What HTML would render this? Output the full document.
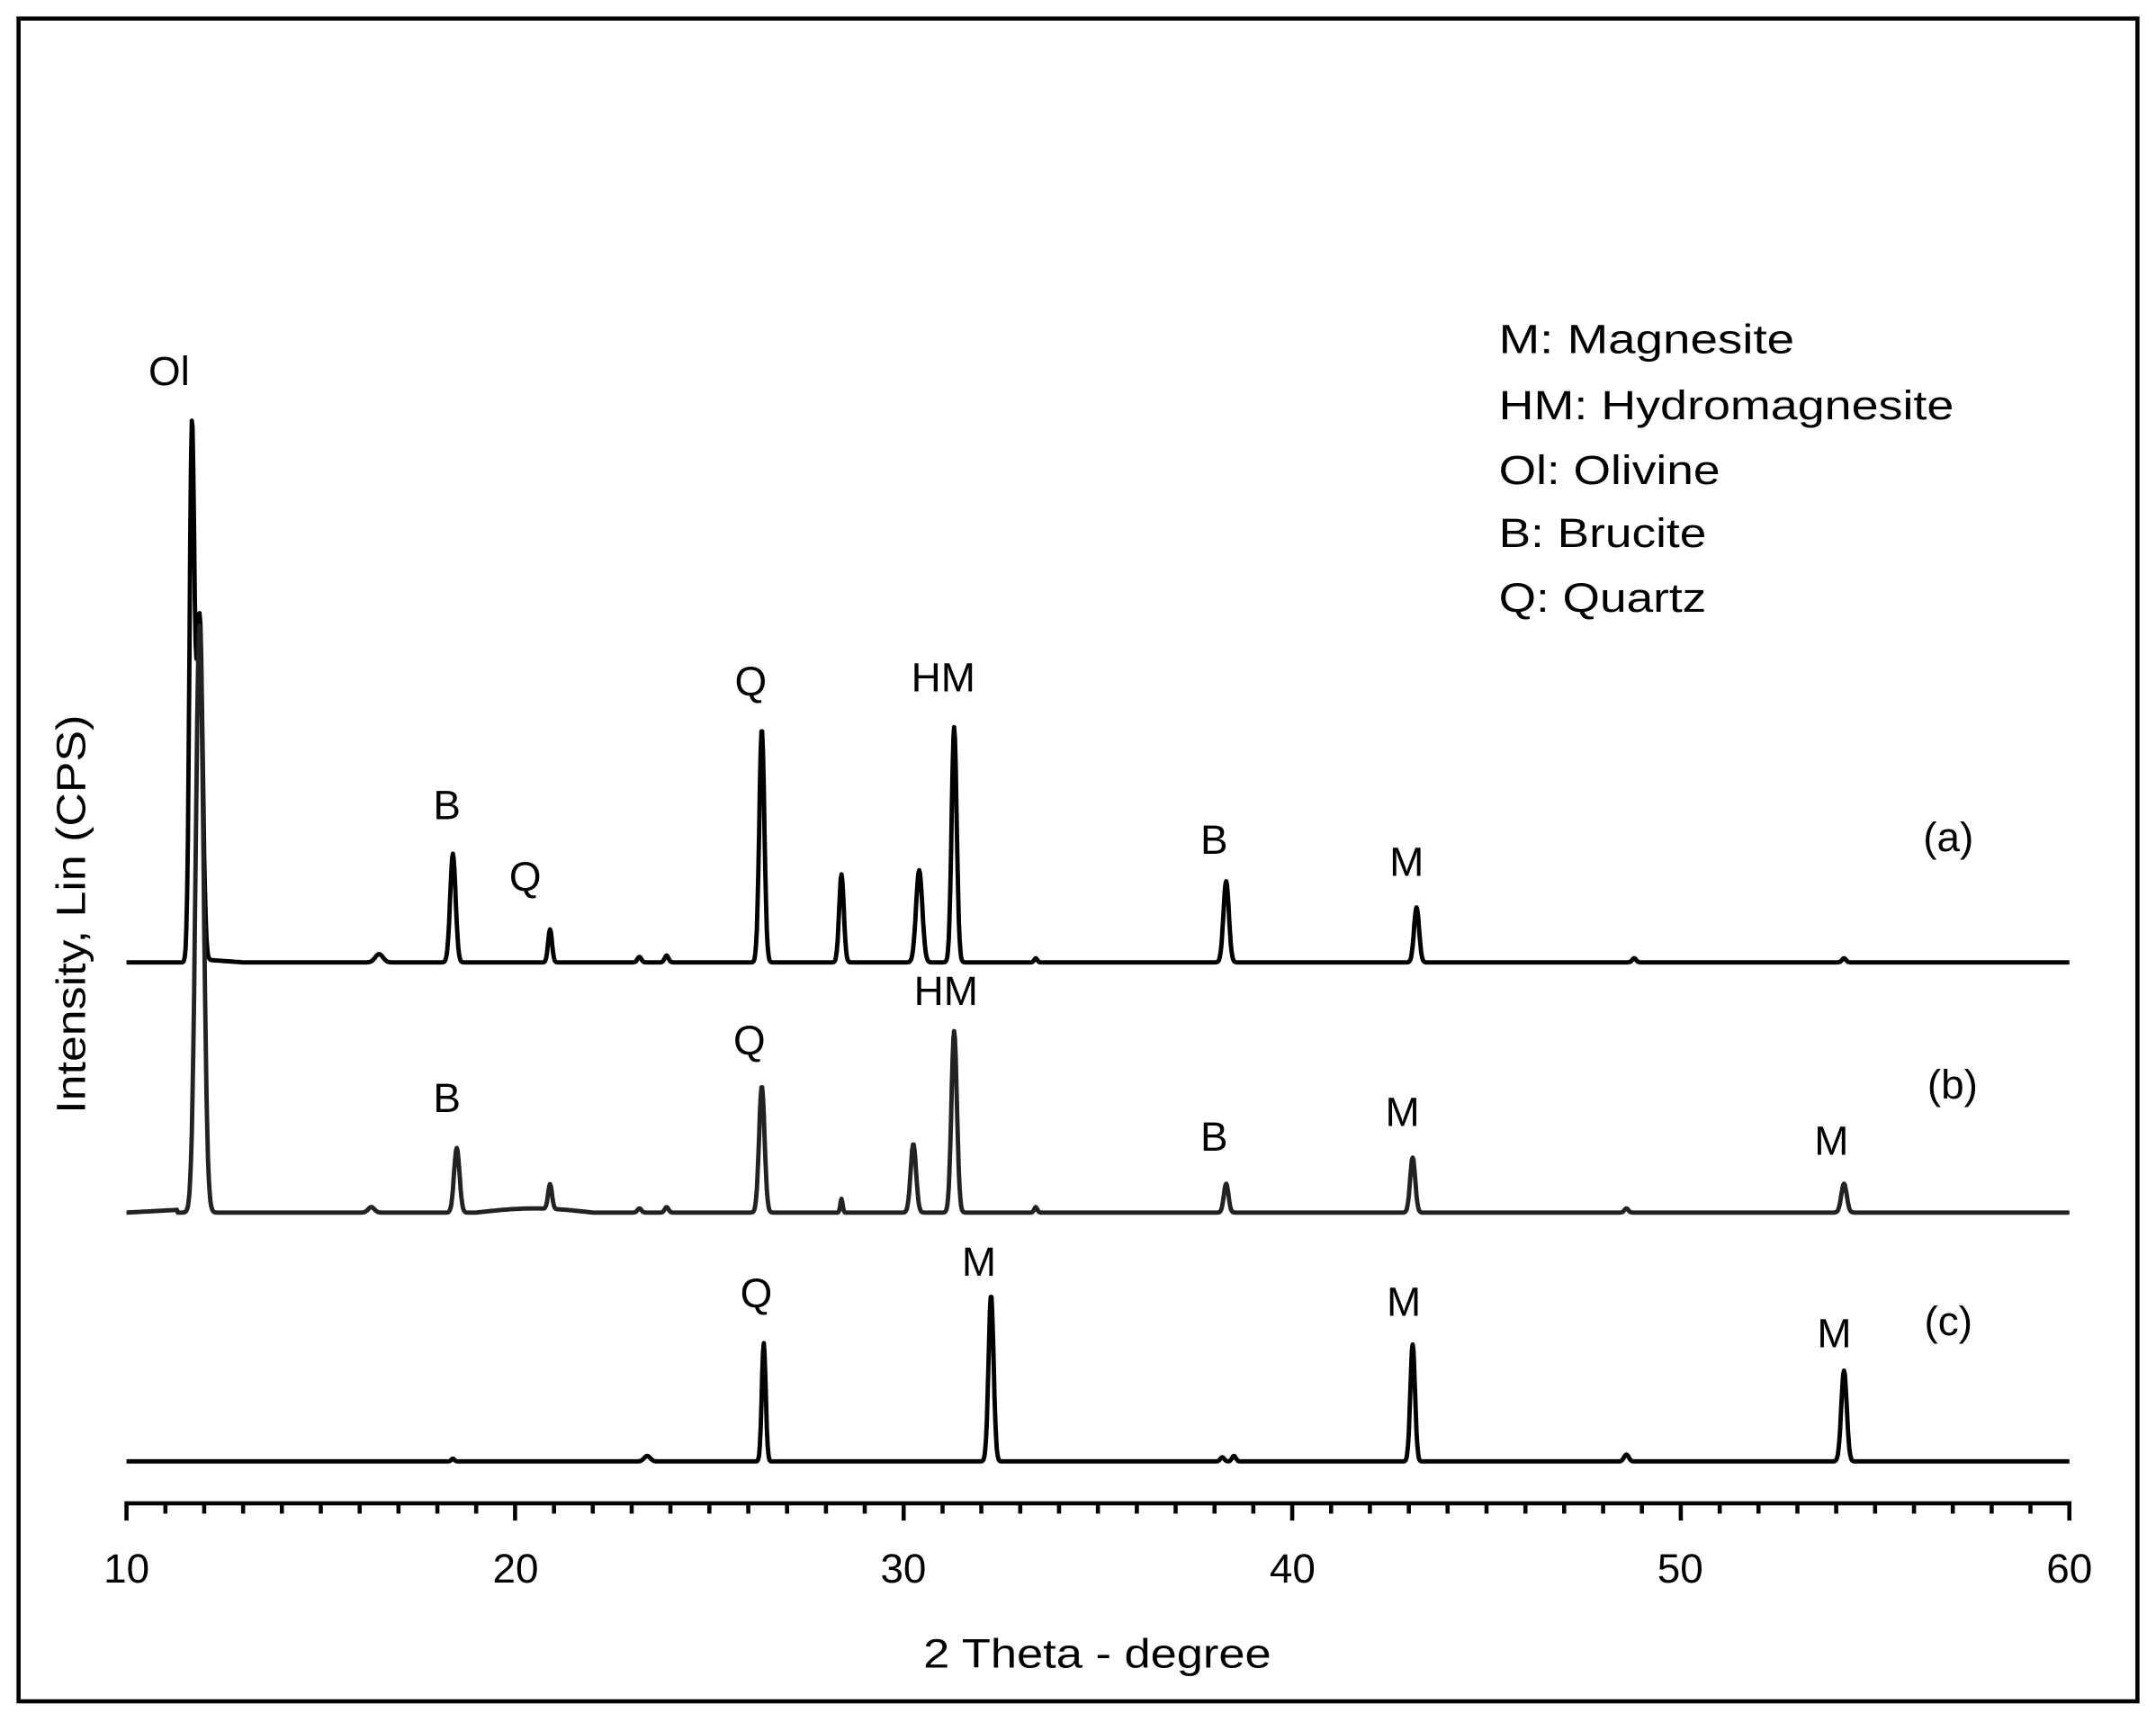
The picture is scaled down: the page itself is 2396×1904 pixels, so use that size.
<!DOCTYPE html>
<html><head><meta charset="utf-8"><style>
html,body{margin:0;padding:0;background:#fff;}
svg{display:block;}
text{font-family:"Liberation Sans",sans-serif;fill:#000;}
</style></head><body>
<svg id="s" width="2396" height="1904" viewBox="0 0 1568 1246" preserveAspectRatio="none" xmlns="http://www.w3.org/2000/svg">
<rect x="13.5" y="13.5" width="1541" height="1224" fill="none" stroke="#000" stroke-width="3"/>
<g id="ax" stroke="#000" stroke-width="3" fill="none"></g>
<g id="tr" fill="none" stroke-linejoin="round"></g>
<g font-size="30" text-anchor="middle">
<text x="92" y="1151">10</text><text x="375" y="1151">20</text><text x="657" y="1151">30</text><text x="940" y="1151">40</text><text x="1222" y="1151">50</text><text x="1505" y="1151">60</text>
<text x="798" y="1213" textLength="253" lengthAdjust="spacingAndGlyphs">2 Theta - degree</text>
<text transform="translate(62,665) rotate(-90)" textLength="290" lengthAdjust="spacingAndGlyphs">Intensity, Lin (CPS)</text>
</g>
<g font-size="30">
<text x="1090" y="257" textLength="215" lengthAdjust="spacingAndGlyphs">M: Magnesite</text>
<text x="1090" y="305" textLength="331" lengthAdjust="spacingAndGlyphs">HM: Hydromagnesite</text>
<text x="1090" y="352" textLength="161" lengthAdjust="spacingAndGlyphs">Ol: Olivine</text>
<text x="1090" y="398" textLength="151" lengthAdjust="spacingAndGlyphs">B: Brucite</text>
<text x="1090" y="445" textLength="151" lengthAdjust="spacingAndGlyphs">Q: Quartz</text>
</g>
<g font-size="30" text-anchor="middle">
<text x="123" y="280">Ol</text>
<text x="325" y="596">B</text><text x="382" y="648">Q</text><text x="546" y="506">Q</text><text x="686" y="503">HM</text><text x="883" y="621">B</text><text x="1023" y="637">M</text><text x="1417" y="619">(a)</text>
<text x="325" y="809">B</text><text x="545" y="767">Q</text><text x="688" y="731">HM</text><text x="883" y="837">B</text><text x="1020" y="819">M</text><text x="1332" y="840">M</text><text x="1420" y="799">(b)</text>
<text x="550" y="951">Q</text><text x="712" y="928">M</text><text x="1021" y="957">M</text><text x="1334" y="980">M</text><text x="1417" y="971">(c)</text>
</g>
</svg>
<script>
(function(){
var NS="http://www.w3.org/2000/svg";
function X(d){return 92+(d-10)*28.26;}
var ax=document.getElementById('ax');
var d="M92 1093.5 H1505";
for(var i=10;i<=60;i++){var x=X(i);d+=" M"+x.toFixed(1)+" 1092 V"+(i%10==0?1106:1101);}
var p=document.createElementNS(NS,'path');p.setAttribute('d',d);ax.appendChild(p);
function trace(base,peaks,x0,x1,col,tilt){
 var s="";
 for(var t=x0;t<=x1+1e-9;t+=0.02){
  var y=base;
  if(tilt)y+=tilt(t);
  for(var k=0;k<peaks.length;k++){var q=peaks[k];var z=(t-q[0])/q[2];y-=q[1]*Math.exp(-0.5*z*z);}
  s+=(s?" L":"M")+X(t).toFixed(1)+" "+y.toFixed(1);
 }
 var e=document.createElementNS(NS,'path');e.setAttribute('d',s);e.setAttribute('stroke',col);e.setAttribute('stroke-width','3.2');
 document.getElementById('tr').appendChild(e);
}
// (a)
trace(700,[[11.68,360,0.06],[11.8,100,0.08],[11.9,200,0.07],[16.5,6,0.1],[18.4,79,0.07],[20.9,24,0.05],[23.2,4,0.05],[23.9,5,0.05],[26.35,170,0.065],[28.4,64,0.06],[30.4,67,0.08],[31.3,171,0.065],[33.4,3,0.04],[38.3,59,0.07],[43.2,40,0.065],[48.8,3,0.05],[54.2,3,0.05]],10,60,'#000',function(t){return t>12&&t<13?-2*(13-t):0;});
// (b)
trace(882,[[11.88,427,0.1],[16.3,4,0.08],[18.5,47,0.07],[20.9,18,0.05],[23.2,3,0.05],[23.9,4,0.05],[26.35,92,0.07],[28.4,10,0.03],[30.25,50,0.07],[31.3,132,0.07],[33.4,4,0.04],[38.3,21,0.06],[43.1,40,0.065],[48.6,3,0.05],[54.2,21,0.07]],10,60,'#222',function(t){var v=0;if(t<11.3)v-=(t-10)*1.5;if(t>19&&t<22)v-=3*Math.sin((t-19)/3*Math.PI);return v;});
// (c)
trace(1063,[[18.4,2,0.04],[23.4,4,0.08],[26.4,86,0.05],[32.25,121,0.065],[38.2,3,0.05],[38.5,4,0.05],[43.1,85,0.06],[48.6,5,0.06],[54.2,66,0.07]],10,60,'#000',null);
})();
</script>
</body></html>
